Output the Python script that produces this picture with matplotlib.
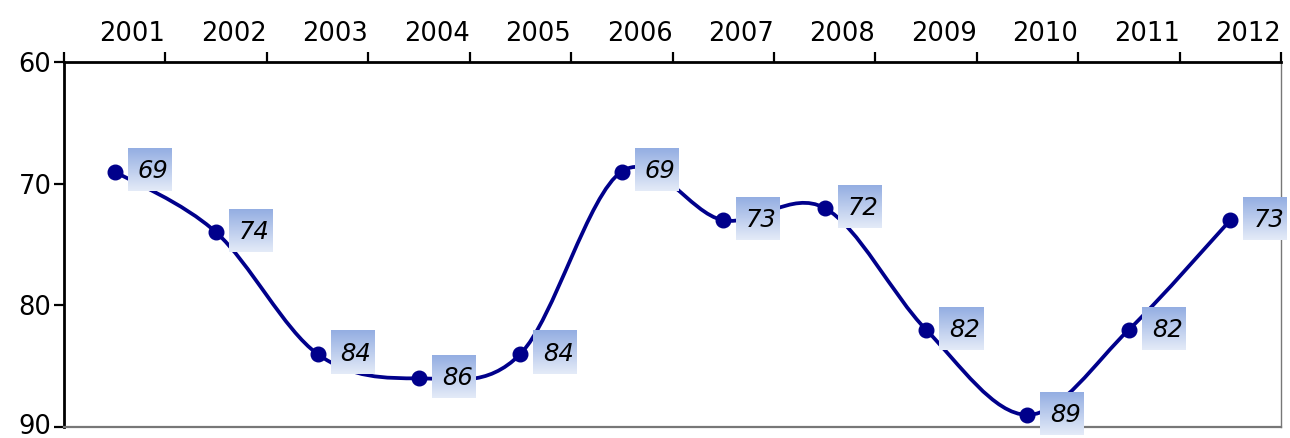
import matplotlib
matplotlib.use('Agg')
import matplotlib.pyplot as plt
from matplotlib.path import Path
from matplotlib.patches import PathPatch
from matplotlib.colors import LinearSegmentedColormap
from matplotlib.transforms import offset_copy
import numpy as np

years = ['2001', '2002', '2003', '2004', '2005', '2006',
         '2007', '2008', '2009', '2010', '2011', '2012']
values = [69, 74, 84, 86, 84, 69, 73, 72, 82, 89, 82, 73]

navy = '#00008b'

fig = plt.figure(figsize=(12.9, 4.38), dpi=100)
ax = fig.add_axes([64/1290, 1-427/438, (1281-64)/1290, (427-62)/438])

xs = np.arange(len(values), dtype=float)
ys = np.array(values, dtype=float)

ax.set_xlim(-0.5, len(values)-0.5)
ax.set_ylim(90, 60)

# smooth line through the points (catmull-rom as bezier segments)
verts = [(xs[0], ys[0])]
codes = [Path.MOVETO]
n = len(xs)
for i in range(n-1):
    p0 = (xs[max(i-1, 0)], ys[max(i-1, 0)])
    p1 = (xs[i], ys[i])
    p2 = (xs[i+1], ys[i+1])
    p3 = (xs[min(i+2, n-1)], ys[min(i+2, n-1)])
    c1 = (p1[0] + (p2[0]-p0[0])/6, p1[1] + (p2[1]-p0[1])/6)
    c2 = (p2[0] - (p3[0]-p1[0])/6, p2[1] - (p3[1]-p1[1])/6)
    verts += [c1, c2, p2]
    codes += [Path.CURVE4]*3
ax.add_patch(PathPatch(Path(verts, codes), facecolor='none', edgecolor=navy,
                       lw=2.7, zorder=2, capstyle='round'))
ax.plot(xs, ys, 'o', color=navy, ms=10.5, zorder=3)

# pixel -> data scale for the label boxes
p00 = ax.transData.transform((0, 60))
p11 = ax.transData.transform((1, 70))
dx = 1.0/(p11[0]-p00[0])
dy = 10.0/(p11[1]-p00[1])  # negative: data grows downward on screen
cmap = LinearSegmentedColormap.from_list('box', ['#94aee2', '#e4ebf8'])
grad = np.linspace(0, 1, 64).reshape(-1, 1)

for x, y in zip(xs, ys):
    left = x + 13*dx
    right = x + 57*dx
    top = y + 23*dy
    bot = y - 20*dy
    ax.imshow(grad, cmap=cmap, extent=(left, right, bot, top), origin='upper',
              aspect='auto', zorder=4, clip_on=False, interpolation='bilinear')
    ax.annotate('%d' % y, (x, y), xytext=(23*0.72, 0), textcoords='offset points',
                ha='left', va='center', fontsize=17.5, fontstyle='italic',
                color='black', zorder=5, annotation_clip=False)

ax.set_xlim(-0.5, len(values)-0.5)
ax.set_ylim(90, 60)

ax.xaxis.tick_top()
ax.set_xticks(np.arange(-0.5, len(values)))
ax.set_xticklabels([''] + years, ha='right')
ax.set_yticks([60, 70, 80, 90])
ax.tick_params(axis='x', which='both', direction='out', length=7, width=1.6,
               labelsize=18.5, pad=4, bottom=False)
ax.tick_params(axis='y', direction='out', length=7, width=1.6,
               labelsize=18.5, pad=2)

# keep the bottom label inside the picture
fig.canvas.draw()
last = ax.get_yticklabels()[-1]
last.set_transform(offset_copy(last.get_transform(), fig=fig, y=3, units='dots'))

for s in ['left', 'top']:
    ax.spines[s].set_linewidth(2)
    ax.spines[s].set_color('black')
ax.spines['right'].set_color('#777777')
ax.spines['right'].set_linewidth(1)
ax.spines['bottom'].set_color('#777777')
ax.spines['bottom'].set_linewidth(1.6)

fig.savefig('out.png', dpi=100)
